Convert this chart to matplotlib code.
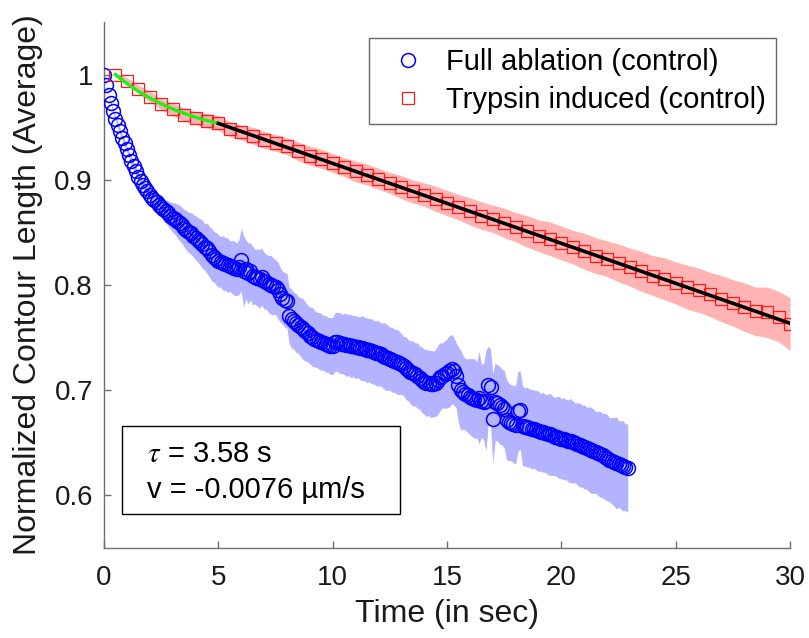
import numpy as np
import matplotlib
matplotlib.use("Agg")
import matplotlib.pyplot as plt
from matplotlib.patches import Rectangle

plt.rcParams['font.family'] = ['Liberation Sans', 'DejaVu Sans']
plt.rcParams['mathtext.fontset'] = 'stix'

# ---- Full ablation (control): mean contour length, sampled every 0.1 s ----
ablation_t0 = 0.0
ablation_dt = 0.1
ablation_mean = [
    1.000, 0.990, 0.981, 0.973, 0.965, 0.958, 0.952, 0.946, 0.940, 0.935,
    0.929, 0.924, 0.918, 0.913, 0.908, 0.903, 0.899, 0.895, 0.892, 0.889,
    0.886, 0.883, 0.881, 0.879, 0.876, 0.874, 0.872, 0.870, 0.868, 0.866,
    0.864, 0.863, 0.861, 0.859, 0.857, 0.854, 0.852, 0.850, 0.849, 0.847,
    0.845, 0.843, 0.841, 0.839, 0.836, 0.835, 0.832, 0.829, 0.827, 0.825,
    0.823, 0.822, 0.821, 0.820, 0.819, 0.818, 0.817, 0.816, 0.815, 0.817,
    0.824, 0.813, 0.815, 0.811, 0.813, 0.809, 0.808, 0.807, 0.806, 0.808,
    0.804, 0.803, 0.801, 0.800, 0.799, 0.798, 0.795, 0.791, 0.788, 0.786,
    0.785, 0.771, 0.768, 0.766, 0.764, 0.762, 0.760, 0.758, 0.756, 0.754,
    0.752, 0.751, 0.749, 0.748, 0.747, 0.746, 0.745, 0.744, 0.743, 0.742,
    0.742, 0.746, 0.746, 0.745, 0.744, 0.744, 0.743, 0.743, 0.742, 0.742,
    0.741, 0.741, 0.740, 0.740, 0.739, 0.738, 0.738, 0.737, 0.736, 0.735,
    0.735, 0.734, 0.733, 0.732, 0.731, 0.730, 0.729, 0.728, 0.727, 0.726,
    0.725, 0.723, 0.721, 0.719, 0.717, 0.716, 0.715, 0.714, 0.712, 0.710,
    0.708, 0.707, 0.707, 0.706, 0.706, 0.707, 0.710, 0.713, 0.714, 0.715,
    0.716, 0.718, 0.720, 0.718, 0.714, 0.705, 0.700, 0.698, 0.696, 0.695,
    0.694, 0.693, 0.692, 0.691, 0.693, 0.690, 0.689, 0.690, 0.705, 0.703,
    0.673, 0.689, 0.688, 0.686, 0.684, 0.682, 0.672, 0.670, 0.669, 0.668,
    0.667, 0.680, 0.681, 0.666, 0.665, 0.665, 0.664, 0.663, 0.663, 0.662,
    0.661, 0.660, 0.660, 0.659, 0.658, 0.658, 0.657, 0.656, 0.656, 0.655,
    0.654, 0.654, 0.653, 0.652, 0.652, 0.651, 0.650, 0.649, 0.648, 0.647,
    0.646, 0.645, 0.644, 0.643, 0.642, 0.641, 0.640, 0.639, 0.638, 0.637,
    0.636, 0.634, 0.633, 0.632, 0.631, 0.630, 0.629, 0.628, 0.627, 0.626,
]
ablation_sd = [
    0.000, 0.001, 0.001, 0.002, 0.002, 0.002, 0.003, 0.003, 0.003, 0.003,
    0.003, 0.003, 0.004, 0.004, 0.004, 0.004, 0.005, 0.005, 0.005, 0.006,
    0.006, 0.007, 0.007, 0.008, 0.009, 0.010, 0.010, 0.011, 0.012, 0.013,
    0.014, 0.015, 0.016, 0.017, 0.017, 0.018, 0.019, 0.019, 0.020, 0.020,
    0.021, 0.021, 0.022, 0.023, 0.022, 0.024, 0.024, 0.025, 0.024, 0.025,
    0.025, 0.024, 0.026, 0.025, 0.026, 0.024, 0.025, 0.026, 0.025, 0.026,
    0.030, 0.034, 0.028, 0.029, 0.027, 0.028, 0.026, 0.027, 0.028, 0.027,
    0.027, 0.026, 0.027, 0.028, 0.027, 0.026, 0.027, 0.026, 0.025, 0.026,
    0.026, 0.027, 0.028, 0.027, 0.028, 0.027, 0.028, 0.029, 0.028, 0.027,
    0.027, 0.028, 0.027, 0.026, 0.027, 0.027, 0.026, 0.027, 0.026, 0.027,
    0.027, 0.028, 0.028, 0.029, 0.028, 0.029, 0.030, 0.029, 0.030, 0.029,
    0.030, 0.029, 0.030, 0.031, 0.030, 0.031, 0.030, 0.031, 0.030, 0.031,
    0.031, 0.030, 0.031, 0.032, 0.031, 0.030, 0.031, 0.030, 0.031, 0.030,
    0.029, 0.028, 0.030, 0.029, 0.030, 0.031, 0.030, 0.031, 0.030, 0.031,
    0.031, 0.032, 0.031, 0.032, 0.031, 0.032, 0.033, 0.032, 0.031, 0.032,
    0.033, 0.034, 0.033, 0.032, 0.031, 0.036, 0.038, 0.035, 0.034, 0.035,
    0.036, 0.037, 0.038, 0.036, 0.044, 0.035, 0.036, 0.048, 0.037, 0.036,
    0.043, 0.037, 0.036, 0.037, 0.036, 0.037, 0.038, 0.037, 0.036, 0.037,
    0.037, 0.038, 0.037, 0.038, 0.037, 0.038, 0.037, 0.038, 0.037, 0.038,
    0.038, 0.037, 0.038, 0.037, 0.038, 0.039, 0.038, 0.037, 0.038, 0.039,
    0.038, 0.039, 0.038, 0.039, 0.040, 0.039, 0.038, 0.039, 0.040, 0.039,
    0.040, 0.039, 0.040, 0.041, 0.040, 0.039, 0.040, 0.041, 0.040, 0.041,
    0.041, 0.040, 0.041, 0.042, 0.044, 0.041, 0.042, 0.043, 0.041, 0.042,
]

# ---- Trypsin induced (control): sampled every 0.5 s from 0.5 s ----
trypsin_t0 = 0.5
trypsin_dt = 0.5
trypsin_mean = [
    1.000, 0.994, 0.986, 0.979, 0.972, 0.967, 0.962, 0.959, 0.956, 0.954,
    0.948, 0.945, 0.942, 0.938, 0.935, 0.932, 0.927, 0.923, 0.920, 0.916,
    0.912, 0.908, 0.905, 0.901, 0.897, 0.893, 0.889, 0.886, 0.882, 0.878,
    0.874, 0.870, 0.866, 0.863, 0.859, 0.855, 0.851, 0.847, 0.844, 0.840,
    0.836, 0.832, 0.828, 0.825, 0.821, 0.817, 0.813, 0.809, 0.806, 0.802,
    0.798, 0.795, 0.791, 0.787, 0.783, 0.779, 0.775, 0.774, 0.770, 0.763,
]
trypsin_sd = [
    0.002, 0.003, 0.004, 0.005, 0.005, 0.006, 0.006, 0.006, 0.007, 0.007,
    0.007, 0.007, 0.008, 0.008, 0.008, 0.008, 0.009, 0.009, 0.009, 0.009,
    0.009, 0.010, 0.010, 0.010, 0.010, 0.011, 0.011, 0.011, 0.012, 0.012,
    0.012, 0.013, 0.013, 0.013, 0.014, 0.014, 0.015, 0.015, 0.016, 0.016,
    0.016, 0.017, 0.017, 0.017, 0.018, 0.018, 0.019, 0.019, 0.020, 0.020,
    0.021, 0.021, 0.021, 0.022, 0.022, 0.023, 0.023, 0.024, 0.024, 0.025,
]

# ---- Fit parameters ----
tau = 3.58            # s, exponential phase (0.5 s - 5 s)
exp_start, exp_end = 0.5, 5.0
exp_y_start, exp_y_end = 1.0, 0.9536
velocity = -0.0076    # normalized length per s, linear phase (5 s - 30 s)
lin_end = 30.0

t_abl = ablation_t0 + ablation_dt * np.arange(len(ablation_mean))
y_abl = np.array(ablation_mean)
s_abl = np.array(ablation_sd)
t_try = trypsin_t0 + trypsin_dt * np.arange(len(trypsin_mean))
y_try = np.array(trypsin_mean)
s_try = np.array(trypsin_sd)

# exponential relaxation through the end points with time constant tau
t_exp = np.linspace(exp_start, exp_end, 200)
amp = (exp_y_start - exp_y_end) / (np.exp(-exp_start / tau) - np.exp(-exp_end / tau))
base = exp_y_start - amp * np.exp(-exp_start / tau)
y_exp = base + amp * np.exp(-t_exp / tau)
# linear shrinkage at constant velocity
t_lin = np.array([exp_end, lin_end])
y_lin = exp_y_end + velocity * (t_lin - exp_end)

fig = plt.figure(figsize=(8.09, 6.38), dpi=100)
ax = fig.add_axes([0.1286, 0.141, 0.848, 0.8245])

ax.fill_between(t_abl, y_abl - s_abl, y_abl + s_abl, color=(0.70, 0.70, 1.0),
                linewidth=0, zorder=1)
ax.fill_between(t_try, y_try - s_try, y_try + s_try, color=(1.0, 0.70, 0.70),
                linewidth=0, zorder=1)

ax.plot(t_abl, y_abl, linestyle='none', marker='o', markersize=10,
        markerfacecolor='none', markeredgecolor=(0, 0, 1), markeredgewidth=1.1,
        label='Full ablation (control)', zorder=3)
ax.plot(t_try, y_try, linestyle='none', marker='s', markersize=8,
        markerfacecolor='none', markeredgecolor=(1, 0.1, 0.1), markeredgewidth=0.9,
        label='Trypsin induced (control)', zorder=3)

ax.plot(t_exp, y_exp, color=(0.1, 0.95, 0.1), linewidth=2.4, zorder=4)
ax.plot(t_lin, y_lin, color='black', linewidth=2.6, zorder=4)

ax.set_xlim(0, 30)
ax.set_ylim(0.55, 1.05)
ax.set_xticks([0, 5, 10, 15, 20, 25, 30])
ax.set_yticks([0.6, 0.7, 0.8, 0.9, 1.0])
ax.set_yticklabels(['0.6', '0.7', '0.8', '0.9', '1'])

axis_grey = '#707070'
for side in ('top', 'right'):
    ax.spines[side].set_visible(False)
for side in ('left', 'bottom'):
    ax.spines[side].set_color(axis_grey)
    ax.spines[side].set_linewidth(1.0)
ax.tick_params(axis='both', direction='in', length=5, width=1.0, color=axis_grey,
               labelsize=20, labelcolor='#1a1a1a')
ax.tick_params(axis='x', pad=12)
ax.tick_params(axis='y', pad=8)

ax.set_xlabel('Time (in sec)', fontsize=23, color='#1a1a1a', labelpad=6)
ax.set_ylabel('Normalized Contour Length (Average)', fontsize=23, color='#1a1a1a',
              labelpad=8)

leg = ax.legend(loc='upper right', bbox_to_anchor=(0.98, 0.97), borderaxespad=0,
                fontsize=21, frameon=True, fancybox=False, handlelength=2.0,
                handletextpad=0.3, labelspacing=0.35, borderpad=0.35)
leg.get_frame().set_edgecolor('#404040')
leg.get_frame().set_linewidth(1.0)

# annotation box with fit parameters
ax.add_patch(Rectangle((0.026, 0.065), 0.405, 0.167, transform=ax.transAxes,
                       facecolor='white', edgecolor='black', linewidth=1.0, zorder=5))
ax.text(0.0627, 0.1635, r'$\tau$ = 3.58 s', transform=ax.transAxes, fontsize=21,
        va='baseline', ha='left', zorder=6)
ax.text(0.0627, 0.095, 'v = -0.0076 \u00b5m/s', transform=ax.transAxes, fontsize=21,
        va='baseline', ha='left', zorder=6)

fig.savefig('out.png', dpi=100)
